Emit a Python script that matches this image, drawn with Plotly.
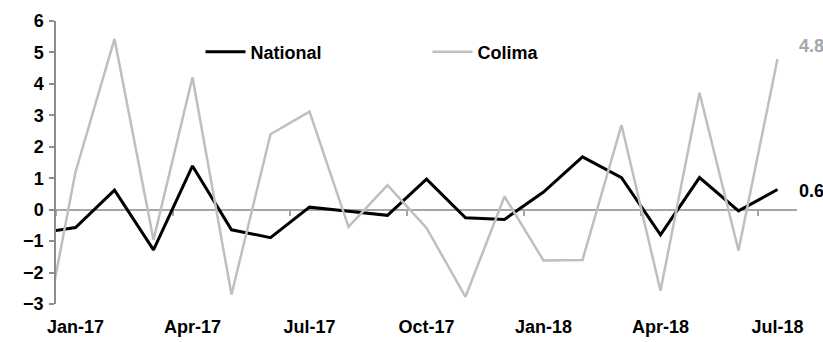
import plotly.graph_objects as go

months = ["Dec-16", "Jan-17", "Feb-17", "Mar-17", "Apr-17", "May-17", "Jun-17", "Jul-17",
          "Aug-17", "Sep-17", "Oct-17", "Nov-17", "Dec-17", "Jan-18", "Feb-18", "Mar-18",
          "Apr-18", "May-18", "Jun-18", "Jul-18"]
national = [-0.75, -0.57, 0.62, -1.28, 1.39, -0.64, -0.89, 0.08, -0.05, -0.18, 0.97, -0.26,
            -0.31, 0.56, 1.68, 1.02, -0.80, 1.02, -0.04, 0.64]
colima = [-5.28, 1.20, 5.43, -0.96, 4.21, -2.70, 2.40, 3.12, -0.55, 0.78, -0.58, -2.77,
          0.42, -1.62, -1.60, 2.69, -2.58, 3.72, -1.30, 4.79]
tick_labels = ["Jan-17", "Apr-17", "Jul-17", "Oct-17", "Jan-18", "Apr-18", "Jul-18"]

idx = list(range(-1, len(months) - 1))  # Jan-17 = 0
label_pos = [idx[months.index(m)] for m in tick_labels]
boundary_ticks = [p - 0.5 for p in label_pos]
xr = [-0.5, idx[-1] + 0.5]

FONT = "Liberation Sans, Arial, sans-serif"
GREY_LINE = "#bfbfbf"
AXIS = "#8c8c8c"

fig = go.Figure()
fig.add_trace(go.Scatter(x=idx, y=national, mode="lines", name="National",
                         line=dict(color="black", width=3), xaxis="x", yaxis="y"))
fig.add_trace(go.Scatter(x=idx, y=colima, mode="lines", name="Colima",
                         line=dict(color=GREY_LINE, width=2.5), xaxis="x2", yaxis="y"))

fig.add_annotation(x=idx[-1], y=national[-1], xref="x", yref="y", text=f"{national[-1]:.1f}",
                   showarrow=False, xanchor="left", xshift=19, yshift=-1,
                   font=dict(family=FONT, size=18, color="black", weight="bold"))
fig.add_annotation(x=idx[-1], y=colima[-1], xref="x", yref="y", text=f"{colima[-1]:.1f}",
                   showarrow=False, xanchor="left", xshift=19, yshift=13,
                   font=dict(family=FONT, size=18, color="#a6a6a6", weight="bold"))

fig.update_layout(
    width=823, height=342,
    margin=dict(l=56, r=26, t=21, b=38, autoexpand=False),
    plot_bgcolor="white", paper_bgcolor="white",
    font=dict(family=FONT, size=18, color="black", weight="bold"),
    showlegend=True,
    legend=dict(orientation="h", x=0.195, y=0.89, xanchor="left", yanchor="middle",
                font=dict(family=FONT, size=18, color="black", weight="bold"),
                bgcolor="rgba(0,0,0,0)", entrywidth=172, itemwidth=40),
    xaxis=dict(range=xr, tickmode="array", tickvals=label_pos, ticktext=tick_labels,
               showline=False, showgrid=False, zeroline=False, ticks="", automargin=False,
               tickfont=dict(family=FONT, size=18, color="black", weight="bold"),
               ticklabelstandoff=10),
    xaxis2=dict(range=xr, overlaying="x", anchor="free", position=1/3,
                showline=True, linecolor="#a6a6a6", linewidth=2,
                ticks="outside", ticklen=5, tickwidth=1.5, tickcolor="#a6a6a6",
                tickmode="array", tickvals=boundary_ticks, showticklabels=False,
                showgrid=False, zeroline=False, layer="below traces"),
    yaxis=dict(range=[-3, 6], dtick=1, tick0=0, showline=True, linecolor=AXIS, linewidth=1.5,
               ticks="outside", ticklen=5, tickwidth=1.5, tickcolor=AXIS,
               showgrid=False, zeroline=False, automargin=False,
               tickfont=dict(family=FONT, size=18, color="black", weight="bold"),
               ticklabelstandoff=2),
)

fig.write_html("out.html")
